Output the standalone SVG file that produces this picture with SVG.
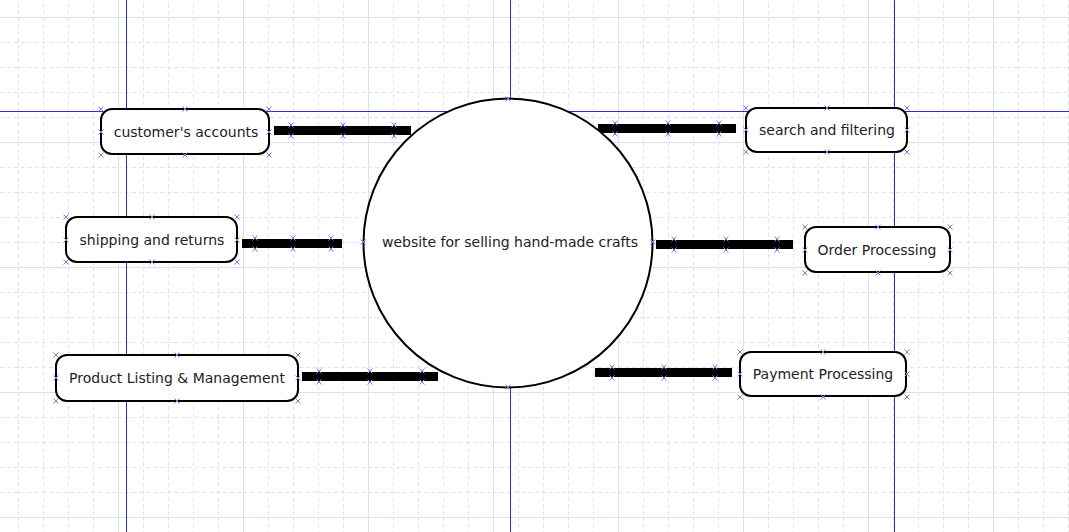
<svg xmlns="http://www.w3.org/2000/svg" xmlns:xlink="http://www.w3.org/1999/xlink" width="1069" height="532" viewBox="0 0 1069 532">
<style>
.grid-minor{stroke:#dbe7e7;stroke-width:1;stroke-dasharray:4 3;fill:none}
.grid-major{stroke:#d6e4e4;stroke-width:1;fill:none}
.guide{stroke:#2e2ec4;stroke-width:1;fill:none}
.node{fill:#fff;stroke:#000;stroke-width:2}
.label{font-family:"DejaVu Sans",Verdana,sans-serif;font-size:14px;fill:#222;text-anchor:middle}
.bar{fill:#000}
.hx{stroke:#7a7af2;stroke-width:1;fill:none}
</style>
<defs>
<pattern id="grid" patternUnits="userSpaceOnUse" x="118" y="17" width="125" height="125">
<path class="grid-minor" d="M25.5,0V125M50.5,0V125M75.5,0V125M100.5,0V125M0,25.5H125M0,50.5H125M0,75.5H125M0,100.5H125"/>
<path class="grid-major" d="M0.5,0V125M0,0.5H125"/>
</pattern>
<path id="x" class="hx" d="M-2.5,-2.5L2.5,2.5M-2.5,2.5L2.5,-2.5"/>
</defs>
<rect width="1069" height="532" fill="#fff"/>
<rect width="1069" height="532" fill="url(#grid)"/>
<g id="guides">
<path class="guide" d="M126.5,0V532M510.5,0V532M894.5,0V532M0,111.5H1069"/>
</g>
<g id="connectors">
<rect class="bar" x="274" y="126" width="137" height="9"/>
<rect class="bar" x="242" y="239" width="100" height="9"/>
<rect class="bar" x="302" y="372" width="136" height="9"/>
<rect class="bar" x="598" y="124" width="138" height="9"/>
<rect class="bar" x="656" y="240" width="137" height="9"/>
<rect class="bar" x="595" y="368" width="137" height="9"/>
<g>
<use href="#x" x="291" y="125"/><use href="#x" x="343" y="125"/><use href="#x" x="394" y="125"/>
<use href="#x" x="291" y="136"/><use href="#x" x="343" y="136"/><use href="#x" x="394" y="136"/>
<use href="#x" x="255" y="238"/><use href="#x" x="293" y="238"/><use href="#x" x="331" y="238"/>
<use href="#x" x="255" y="249"/><use href="#x" x="293" y="249"/><use href="#x" x="331" y="249"/>
<use href="#x" x="319" y="371"/><use href="#x" x="370" y="371"/><use href="#x" x="422" y="371"/>
<use href="#x" x="319" y="382"/><use href="#x" x="370" y="382"/><use href="#x" x="422" y="382"/>
<use href="#x" x="615" y="123"/><use href="#x" x="668" y="123"/><use href="#x" x="719" y="123"/>
<use href="#x" x="615" y="134"/><use href="#x" x="668" y="134"/><use href="#x" x="719" y="134"/>
<use href="#x" x="674" y="239"/><use href="#x" x="726" y="239"/><use href="#x" x="777" y="239"/>
<use href="#x" x="674" y="250"/><use href="#x" x="726" y="250"/><use href="#x" x="777" y="250"/>
<use href="#x" x="612" y="367"/><use href="#x" x="664" y="367"/><use href="#x" x="715" y="367"/>
<use href="#x" x="612" y="378"/><use href="#x" x="664" y="378"/><use href="#x" x="715" y="378"/>
</g>
</g>
<g id="center">
<circle class="node" cx="508" cy="243" r="144.5"/>
<text class="label" x="510" y="247">website for selling hand-made crafts</text>
<use href="#x" x="508" y="99"/><use href="#x" x="508" y="387"/><use href="#x" x="363" y="242"/><use href="#x" x="653" y="242"/>
</g>
<g id="customers-accounts">
<rect class="node" x="101" y="109" width="168" height="45" rx="11"/>
<text class="label" x="186" y="137">customer's accounts</text>
<use href="#x" x="101" y="109"/><use href="#x" x="185" y="109"/><use href="#x" x="269" y="109"/>
<use href="#x" x="101" y="132"/><use href="#x" x="269" y="132"/>
<use href="#x" x="101" y="155"/><use href="#x" x="185" y="155"/><use href="#x" x="269" y="155"/>
</g>
<g id="shipping-and-returns">
<rect class="node" x="66" y="217" width="171" height="45" rx="11"/>
<text class="label" x="152" y="245">shipping and returns</text>
<use href="#x" x="66" y="217"/><use href="#x" x="152" y="217"/><use href="#x" x="237" y="217"/>
<use href="#x" x="66" y="240"/><use href="#x" x="237" y="240"/>
<use href="#x" x="66" y="262"/><use href="#x" x="152" y="262"/><use href="#x" x="237" y="262"/>
</g>
<g id="product-listing">
<rect class="node" x="56" y="355" width="242" height="46" rx="11"/>
<text class="label" x="177" y="383">Product Listing &amp; Management</text>
<use href="#x" x="56" y="355"/><use href="#x" x="177" y="355"/><use href="#x" x="298" y="355"/>
<use href="#x" x="56" y="378"/><use href="#x" x="298" y="378"/>
<use href="#x" x="56" y="401"/><use href="#x" x="177" y="401"/><use href="#x" x="298" y="401"/>
</g>
<g id="search-and-filtering">
<rect class="node" x="746" y="108" width="161" height="44" rx="11"/>
<text class="label" x="827" y="135">search and filtering</text>
<use href="#x" x="746" y="108"/><use href="#x" x="827" y="108"/><use href="#x" x="907" y="108"/>
<use href="#x" x="746" y="130"/><use href="#x" x="907" y="130"/>
<use href="#x" x="746" y="152"/><use href="#x" x="827" y="152"/><use href="#x" x="907" y="152"/>
</g>
<g id="order-processing">
<rect class="node" x="805" y="227" width="145" height="45" rx="11"/>
<text class="label" x="877" y="255">Order Processing</text>
<use href="#x" x="805" y="227"/><use href="#x" x="878" y="227"/><use href="#x" x="950" y="227"/>
<use href="#x" x="805" y="250"/><use href="#x" x="950" y="250"/>
<use href="#x" x="805" y="273"/><use href="#x" x="878" y="273"/><use href="#x" x="950" y="273"/>
</g>
<g id="payment-processing">
<rect class="node" x="740" y="352" width="166" height="44" rx="11"/>
<text class="label" x="823" y="379">Payment Processing</text>
<use href="#x" x="740" y="352"/><use href="#x" x="823" y="352"/><use href="#x" x="907" y="352"/>
<use href="#x" x="740" y="374"/><use href="#x" x="907" y="374"/>
<use href="#x" x="740" y="397"/><use href="#x" x="823" y="397"/><use href="#x" x="907" y="397"/>
</g>
</svg>
